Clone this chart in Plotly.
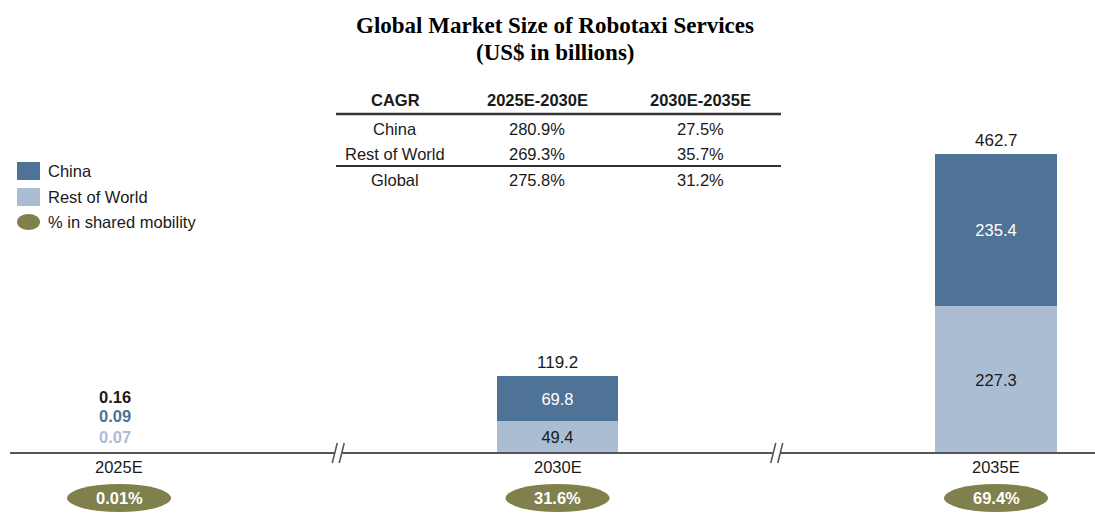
import plotly.graph_objects as go

# Data
years = ["2025E", "2030E", "2035E"]
china = [0.09, 69.8, 235.4]
rest_of_world = [0.07, 49.4, 227.3]
shared_mobility_pct = [0.01, 31.6, 69.4]

cagr_periods = ["2025E-2030E", "2030E-2035E"]
cagr_regions = ["China", "Rest of World", "Global"]
cagr_china = [280.9, 27.5]
cagr_row = [269.3, 35.7]
cagr_global = [275.8, 31.2]

# Palette
CHINA_C = "#4F7396"
ROW_C = "#ABBDD2"
OLIVE = "#80804C"
AXIS_C = "#555555"
TEXT_C = "#1A1A1A"
FONT = "Liberation Sans, Arial, sans-serif"
SERIF = "Liberation Serif, Times New Roman, serif"
FS = 16.5

W, H = 1095, 523
# pixel geometry of the plot (full-bleed area)
PX_PER_CAT = 438.5
CAT0_PX = 119
BASE_PX = 453
PX_PER_UNIT = 299 / 462.7

x_range = [-CAT0_PX / PX_PER_CAT, (W - CAT0_PX) / PX_PER_CAT]
y_range = [-(H - BASE_PX) / PX_PER_UNIT, BASE_PX / PX_PER_UNIT]
dx = 1 / PX_PER_CAT   # one pixel in x data units
dy = 1 / PX_PER_UNIT  # one pixel in y data units

xs = list(range(len(years)))
totals = [c + r for c, r in zip(china, rest_of_world)]


def px(x, y):
    return x / W, 1 - y / H


def note(x, y, text, size=FS, color=TEXT_C, family=FONT, xanchor="center", **kw):
    return dict(x=x, y=y, text=text, showarrow=False, xanchor=xanchor,
                yanchor=kw.pop("yanchor", "middle"),
                font=dict(size=size, color=color, family=family), **kw)


fig = go.Figure()
fig.add_trace(go.Bar(
    x=xs, y=rest_of_world, name="Rest of World",
    marker=dict(color=ROW_C, line=dict(width=0)), width=0.277,
    text=["" if i == 0 else f"{v:.1f}" for i, v in enumerate(rest_of_world)],
    textposition="inside", insidetextanchor="middle", textangle=0,
    textfont=dict(size=FS, color=TEXT_C, family=FONT), constraintext="none",
))
fig.add_trace(go.Bar(
    x=xs, y=china, name="China",
    marker=dict(color=CHINA_C, line=dict(width=0)), width=0.277,
    text=["" if i == 0 else f"{v:.1f}" for i, v in enumerate(china)],
    textposition="inside", insidetextanchor="middle", textangle=0,
    textfont=dict(size=FS, color="white", family=FONT), constraintext="none",
))

annotations = []
shapes = []

# totals above bars (2030E, 2035E)
for i in xs[1:]:
    annotations.append(note(i, totals[i], f"{totals[i]:.1f}", size=17, xref="x", yref="y",
                            yanchor="bottom", yshift=2))

# 2025E small values stacked as labels
for val, col, shift in [(totals[0], TEXT_C, 56), (china[0], CHINA_C, 37), (rest_of_world[0], ROW_C, 16)]:
    annotations.append(note(0, 0, f"<b>{val:.2f}</b>", color=col, xref="x", yref="y",
                            yshift=shift, xshift=-4))

# category labels and shared-mobility ellipses
for i, yr in enumerate(years):
    annotations.append(note(i, -14 * dy, yr, xref="x", yref="y"))
    shapes.append(dict(type="circle", xref="x", yref="y",
                       x0=i - 52 * dx, x1=i + 52 * dx,
                       y0=-59 * dy, y1=-31 * dy,
                       fillcolor=OLIVE, line=dict(width=0), layer="above"))
    pct = f"{shared_mobility_pct[i]:.2f}%" if i == 0 else f"{shared_mobility_pct[i]:.1f}%"
    annotations.append(note(i, -45 * dy, f"<b>{pct}</b>", color="white", xref="x", yref="y"))

# baseline with axis breaks
shapes.append(dict(type="line", xref="x", yref="y", x0=x_range[0] + 10 * dx, x1=x_range[1],
                   y0=0, y1=0, line=dict(color=AXIS_C, width=2), layer="above"))
for b in [0.5, 1.5]:
    shapes.append(dict(type="rect", xref="x", yref="y", x0=b - 4 * dx, x1=b + 4 * dx,
                       y0=-3 * dy, y1=3 * dy, fillcolor="white", line=dict(width=0), layer="above"))
    for off in [-6, 1]:
        shapes.append(dict(type="line", xref="x", yref="y",
                           x0=b + off * dx, x1=b + (off + 5) * dx,
                           y0=-10 * dy, y1=10 * dy,
                           line=dict(color=AXIS_C, width=1.5), layer="above"))

# title
for txt, yy in [("Global Market Size of Robotaxi Services", 25), ("(US$ in billions)", 52)]:
    xx, yp = px(555, yy)
    annotations.append(note(xx, yp, f"<b>{txt}</b>", size=23, color="black", family=SERIF,
                            xref="paper", yref="paper"))

# CAGR table
col_x = [395, 537, 700]
header = ["CAGR"] + cagr_periods
for cx, h in zip(col_x, header):
    xx, yp = px(cx, 100)
    annotations.append(note(xx, yp, f"<b>{h}</b>", xref="paper", yref="paper"))
rows = list(zip(cagr_regions, [cagr_china, cagr_row, cagr_global]))
for (region, vals), ry in zip(rows, [129, 154, 180]):
    cells = [region] + [f"{v:.1f}%" for v in vals]
    for cx, c in zip(col_x, cells):
        xx, yp = px(cx, ry)
        annotations.append(note(xx, yp, c, xref="paper", yref="paper"))
for ly, lw in [(114, 2.5), (166, 2)]:
    x0, y0 = px(336, ly)
    x1, _ = px(781, ly)
    shapes.append(dict(type="line", xref="paper", yref="paper", x0=x0, x1=x1, y0=y0, y1=y0,
                       line=dict(color="#333333", width=lw)))

# legend (manual)
legend_items = [("China", CHINA_C, "rect", 171), ("Rest of World", ROW_C, "rect", 197),
                ("% in shared mobility", OLIVE, "circle", 222)]
for label, col, kind, cy in legend_items:
    half_h = 9 if kind == "rect" else 8
    x0, y0 = px(17, cy + half_h)
    x1, y1 = px(40, cy - half_h)
    shapes.append(dict(type=kind, xref="paper", yref="paper", x0=x0, x1=x1, y0=y0, y1=y1,
                       fillcolor=col, line=dict(width=0)))
    xx, yp = px(46, cy)
    annotations.append(note(xx, yp, label, xanchor="left", xref="paper", yref="paper"))

fig.update_layout(
    width=W, height=H,
    barmode="stack",
    showlegend=False,
    paper_bgcolor="white", plot_bgcolor="white",
    margin=dict(l=0, r=0, t=0, b=0),
    xaxis=dict(range=x_range, visible=False, fixedrange=True),
    yaxis=dict(range=y_range, visible=False, fixedrange=True),
    annotations=annotations,
    shapes=shapes,
    font=dict(family=FONT, color=TEXT_C),
)

# the page body has a default 8px margin; drop it so the figure fills the window
fig.write_html("out.html", config={"displayModeBar": False},
               post_script="document.body.style.margin='0';")
